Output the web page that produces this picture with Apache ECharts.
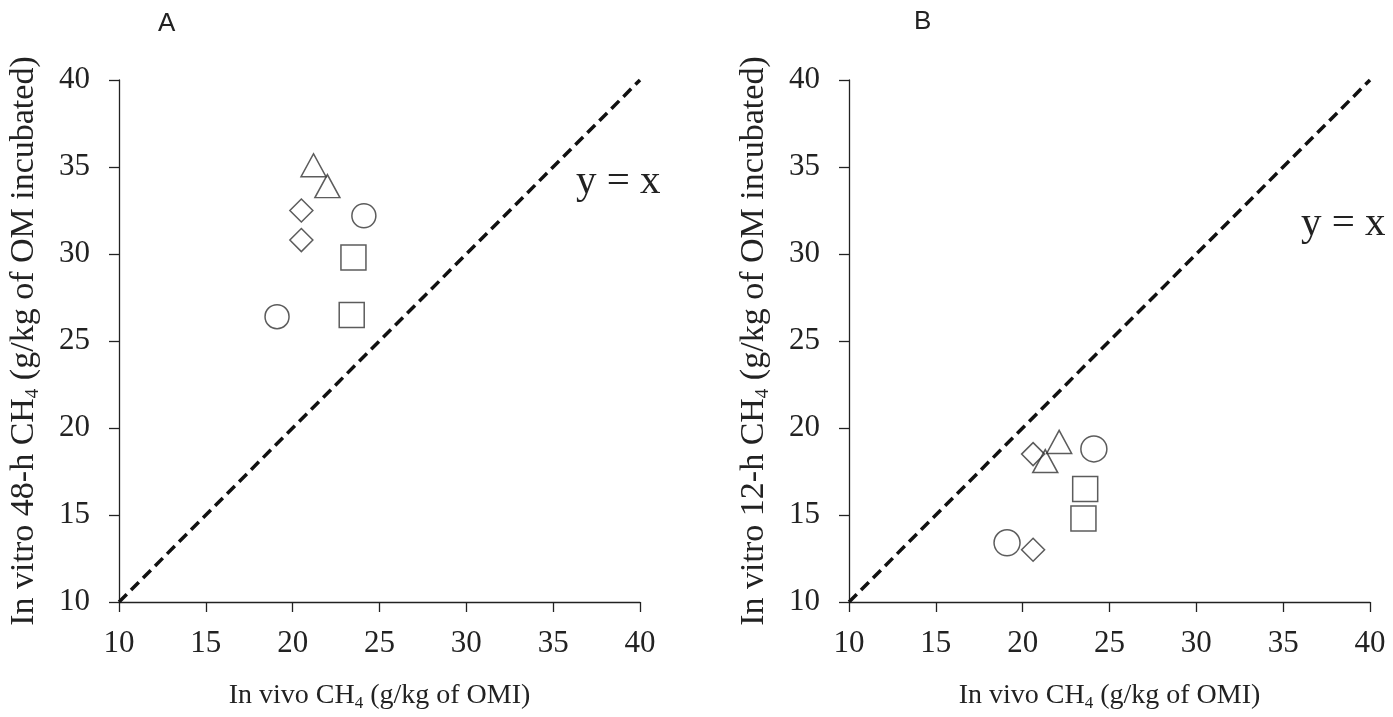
<!DOCTYPE html>
<html>
<head>
<meta charset="utf-8">
<script src="https://cdn.jsdelivr.net/npm/echarts@6/dist/echarts.min.js"></script>
<style>
  html, body { margin: 0; padding: 0; background: #fff; }
  #chart { width: 1393px; height: 717px; }
</style>
</head>
<body>
<div id="chart"></div>
<script>
// panel A: in vitro 48-h vs in vivo
const triA = [[21.2, 35.1], [22.0, 33.9]]
const diaA = [[20.5, 32.5], [20.5, 30.8]]
const cirA = [[24.1, 32.2], [19.1, 26.4]]
const sqrA = [[23.5, 29.8], [23.4, 26.5]]
// panel B: in vitro 12-h vs in vivo
const triB = [[22.1, 19.2], [21.3, 18.1]]
const diaB = [[20.6, 18.5], [20.6, 13.0]]
const cirB = [[24.1, 18.8], [19.1, 13.4]]
const sqrB = [[23.6, 16.5], [23.5, 14.8]]
const refLine = [[10, 10], [40, 40]]

const serif = '"Liberation Serif", "DejaVu Serif", serif'
const ink = '#222'

let chart = echarts.init(document.getElementById('chart'))

function xAx(idx) {
  return {
    gridIndex: idx,
    type: 'value',
    min: 10,
    max: 40,
    interval: 5,
    splitLine: { show: false },
    axisLine: { lineStyle: { color: ink, width: 1.3 } },
    axisTick: { inside: false, length: 10, lineStyle: { color: ink, width: 1.3 } },
    axisLabel: { margin: 26, fontFamily: serif, fontSize: 31, color: '#222' },
    name: '{t|In vivo CH}{s|4}{t| (g/kg of OMI)}',
    nameLocation: 'middle',
    nameGap: 77,
    nameTextStyle: {
      rich: {
        t: { fontFamily: serif, fontSize: 28, color: '#222' },
        s: { fontFamily: serif, fontSize: 17, color: '#222', verticalAlign: 'bottom', padding: [16, 0, 0, 0] }
      }
    }
  }
}

function yAx(idx, h) {
  return {
    gridIndex: idx,
    type: 'value',
    min: 10,
    max: 40,
    interval: 5,
    splitLine: { show: false },
    axisLine: { lineStyle: { color: ink, width: 1.3 } },
    axisTick: { inside: false, length: 10, lineStyle: { color: ink, width: 1.3 } },
    axisLabel: { margin: 29, fontFamily: serif, fontSize: 31, color: '#222' },
    name: '{t|In vitro ' + h + ' CH}{s|4}{t| (g/kg of OM incubated)}',
    nameLocation: 'middle',
    nameGap: 76,
    nameTextStyle: {
      rich: {
        t: { fontFamily: serif, fontSize: 34, color: '#222' },
        s: { fontFamily: serif, fontSize: 19, color: '#222', verticalAlign: 'bottom', padding: [18, 0, 0, 0] }
      }
    }
  }
}

function pts(idx, data, symbol, size) {
  return {
    type: 'scatter',
    xAxisIndex: idx,
    yAxisIndex: idx,
    data: data,
    symbol: symbol,
    symbolSize: size,
    itemStyle: { color: 'rgba(255,255,255,0)', borderColor: '#333', borderWidth: 1.5 },
    z: 3
  }
}

function dashed(idx) {
  return {
    type: 'line',
    xAxisIndex: idx,
    yAxisIndex: idx,
    data: refLine,
    symbol: 'none',
    lineStyle: { color: '#111', width: 3.5, type: [11, 6] },
    z: 2
  }
}

let option = {
  animation: false,
  grid: [
    { left: 119, top: 80, width: 521, height: 527 },
    { left: 849, top: 80, width: 521, height: 527 }
  ],
  xAxis: [xAx(0), xAx(1)],
  yAxis: [yAx(0, '48-h'), yAx(1, '12-h')],
  series: [
    dashed(0),
    pts(0, triA, 'triangle', [25, 23]),
    pts(0, diaA, 'diamond', [23, 23]),
    pts(0, cirA, 'circle', 24),
    pts(0, sqrA, 'rect', 25),
    dashed(1),
    pts(1, triB, 'triangle', [25, 23]),
    pts(1, diaB, 'diamond', [23, 23]),
    pts(1, cirB, 'circle', 26),
    pts(1, sqrB, 'rect', 25)
  ],
  graphic: [
    { type: 'text', left: 158, top: 11, style: { text: 'A', font: '26px "Liberation Sans", Arial, sans-serif', fill: '#222' } },
    { type: 'text', left: 914, top: 9, style: { text: 'B', font: '26px "Liberation Sans", Arial, sans-serif', fill: '#222' } },
    { type: 'text', left: 576, top: 162, style: { text: 'y = x', font: '41px ' + serif, fill: '#222' } },
    { type: 'text', left: 1301, top: 204, style: { text: 'y = x', font: '41px ' + serif, fill: '#222' } }
  ]
}

chart.setOption(option)
window.onresize = function () {
  chart.resize()
}
</script>
</body>
</html>
